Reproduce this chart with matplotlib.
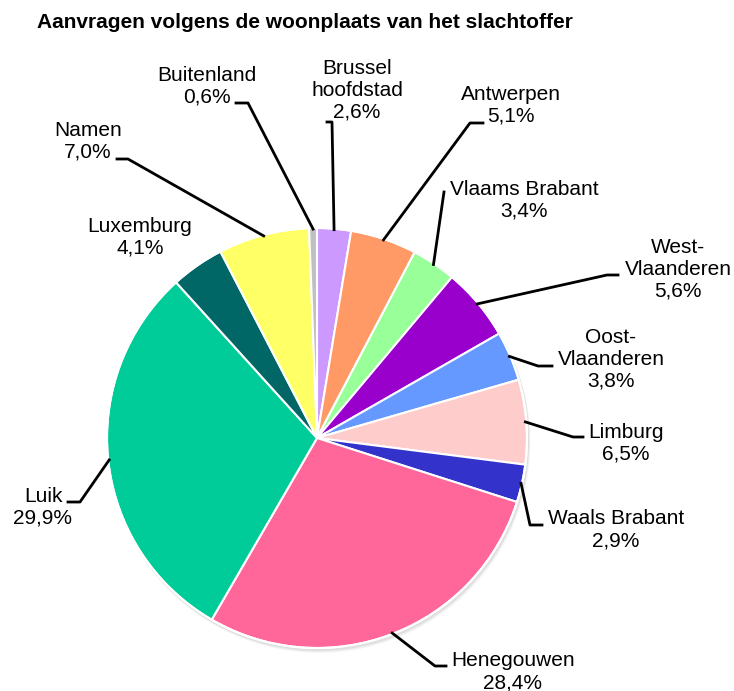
import numpy as np
import matplotlib.pyplot as plt
from matplotlib.patches import Circle

plt.rcParams['font.family'] = ['Liberation Sans', 'DejaVu Sans']

regions = ['Brussel\nhoofdstad', 'Antwerpen', 'Vlaams Brabant', 'West-\nVlaanderen',
           'Oost-\nVlaanderen', 'Limburg', 'Waals Brabant', 'Henegouwen', 'Luik',
           'Luxemburg', 'Namen', 'Buitenland']
shares = [2.6, 5.1, 3.4, 5.6, 3.8, 6.5, 2.9, 28.4, 29.9, 4.1, 7.0, 0.6]
colors = ['#CC99FF', '#FF9966', '#99FF99', '#9900CC', '#6699FF', '#FFCCCC',
          '#3333CC', '#FF6699', '#00CC99', '#006666', '#FFFF66', '#C0C0C0']

# layout (pixel coords, y down): label centres and leader line bends
label_xy = [(357, 90), (511, 105), (524, 200), (678, 269), (611, 359), (626, 443),
            (616, 530), (513, 672), (43, 507), (140, 237), (88, 141), (207, 86)]
leaders = [[(332, 122), (327, 122)], [(470, 123), (483, 123)], [(444, 192)],
           [(607, 275), (618, 275)], [(538, 366), (552, 366)], [(573, 437), (583, 437)],
           [(530, 525), (542, 525)], [(435, 666), (446, 666)], [(80, 502), (68, 502)],
           None, [(128, 159), (117, 159)], [(248, 103), (236, 103)]]

cx, cy, R = 317, 438, 210

fig = plt.figure(figsize=(7.34, 6.91), dpi=100)
ax = fig.add_axes([0, 0, 1, 1])

# soft grey shadow behind the pie
for k, a in [(4, 0.06), (3, 0.08), (2, 0.12)]:
    ax.add_patch(Circle((cx + k * 0.6, cy + k), R + 1, color='grey', alpha=a, lw=0))

# y axis inverted -> counterclock in data = clockwise on screen
wedges, _ = ax.pie(shares, colors=colors, startangle=-90, counterclock=True,
                   center=(cx, cy), radius=R,
                   wedgeprops=dict(edgecolor='white', linewidth=1.5))
ax.add_patch(Circle((cx, cy), R, fill=False, edgecolor='white', lw=1.5))
ax.set_xlim(0, 734)
ax.set_ylim(691, 0)
ax.set_aspect('equal')
ax.axis('off')

for i, w in enumerate(wedges):
    lbl = regions[i] + '\n' + ('%.1f%%' % shares[i]).replace('.', ',')
    ax.text(label_xy[i][0], label_xy[i][1], lbl, ha='center', va='center',
            fontsize=15, linespacing=1.2)
    if leaders[i] is None:
        continue
    ang = np.deg2rad((w.theta1 + w.theta2) / 2)
    sx = cx + (R - 1) * np.cos(ang)
    sy = cy + (R - 1) * np.sin(ang)
    xs = [sx] + [p[0] for p in leaders[i]]
    ys = [sy] + [p[1] for p in leaders[i]]
    ax.plot(xs, ys, color='black', lw=2)

fig.text(37 / 734, 1 - 23 / 691, 'Aanvragen volgens de woonplaats van het slachtoffer',
         fontsize=15, fontweight='bold', ha='left', va='center')

plt.savefig('out.png', dpi=100)
